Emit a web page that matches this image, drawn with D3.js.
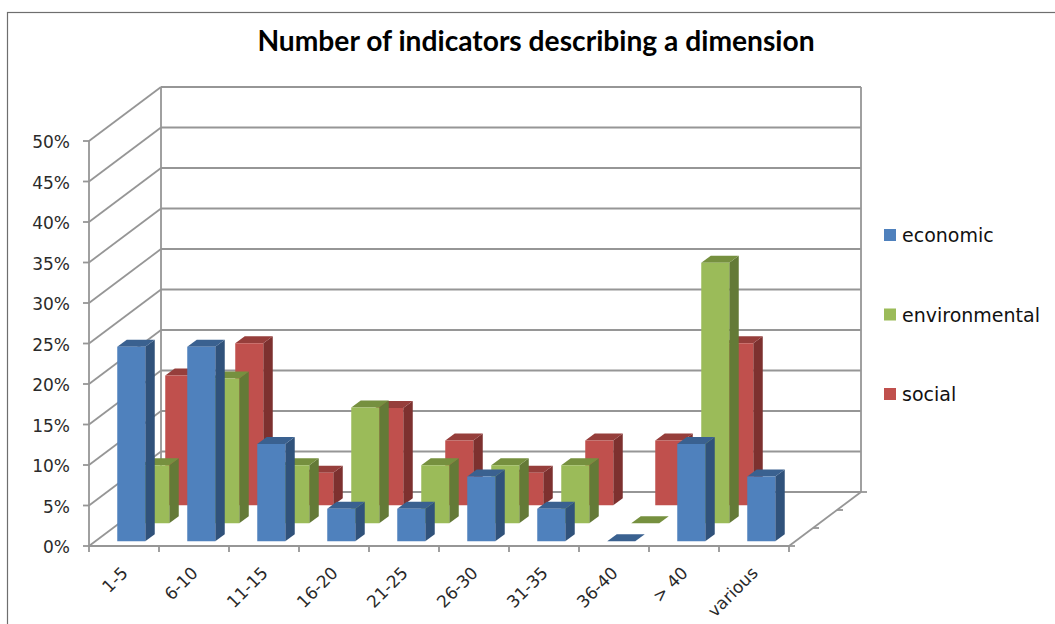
<!DOCTYPE html>
<html><head><meta charset="utf-8">
<script src="https://cdn.jsdelivr.net/npm/d3@7/dist/d3.min.js"></script>
<style>html,body{margin:0;padding:0;background:#fff}svg{display:block}text{font-family:"DejaVu Sans",sans-serif}</style>
</head><body><svg id="c" width="1055" height="624"></svg>
<script>
const categories=["1-5","6-10","11-15","16-20","21-25","26-30","31-35","36-40","> 40","various"];
const economic=[24,24,12,4,4,8,4,0,12,8];
const environmental=[7.14,17.86,7.14,14.29,7.14,7.14,7.14,0,32.14,null];
const social=[16,20,4,12,8,4,8,8,20,null];
const seriesNames=["economic","environmental","social"];
const frontColors=["#4f81bd","#9bbb59","#c0504d"];
const sideColors=["#30527b","#647a37","#7d312f"];
const topColors=["#3a6190","#76903f","#963e3b"];
const yTicks=d3.range(0,51,5);
const seriesValues=[economic,environmental,social];

const svg=d3.select("#c");
const grid="#969696";
const x=d3.scaleBand().domain(categories).range([89,789]);
const y=d3.scaleLinear().domain([0,50]).range([546,141]);
const depth=d3.scaleLinear().domain([0,3]).range([0,1]);
const dx=72,dy=-54;
const barW=28,barDx=9.5,barDy=-7;

svg.append("rect").attr("x",7.5).attr("y",12.5).attr("width",1090).attr("height",700)
  .attr("fill","#fff").attr("stroke","#6e6e6e").attr("stroke-width",1.2);

const g=svg.append("g").attr("stroke",grid).attr("fill","none").attr("stroke-width",1.8);
yTicks.forEach(t=>{
  g.append("line").attr("x1",x.range()[0]).attr("y1",y(t)).attr("x2",x.range()[0]+dx).attr("y2",y(t)+dy);
  g.append("line").attr("x1",x.range()[0]+dx).attr("y1",y(t)+dy).attr("x2",x.range()[1]+dx).attr("y2",y(t)+dy);
  g.append("line").attr("x1",x.range()[0]-6).attr("y1",y(t)).attr("x2",x.range()[0]).attr("y2",y(t));
});
g.append("line").attr("x1",x.range()[0]).attr("y1",y(0)).attr("x2",x.range()[0]).attr("y2",y(50));
g.append("line").attr("x1",x.range()[0]+dx).attr("y1",y(0)+dy).attr("x2",x.range()[0]+dx).attr("y2",y(50)+dy);
g.append("line").attr("x1",x.range()[1]+dx).attr("y1",y(0)+dy).attr("x2",x.range()[1]+dx).attr("y2",y(50)+dy);
g.append("line").attr("x1",x.range()[0]).attr("y1",y(0)).attr("x2",x.range()[1]).attr("y2",y(0));
g.append("line").attr("x1",x.range()[1]).attr("y1",y(0)).attr("x2",x.range()[1]+dx).attr("y2",y(0)+dy);
categories.concat([null]).forEach(c=>{
  const px=c===null?x.range()[1]:x(c);
  g.append("line").attr("x1",px).attr("y1",y(0)).attr("x2",px).attr("y2",y(0)+6);
});
d3.range(0,4).forEach(k=>{
  const f=depth(k);
  const px=x.range()[1]+dx*f,py=y(0)+dy*f;
  g.append("line").attr("x1",px).attr("y1",py).attr("x2",px+6).attr("y2",py);
});

const bars=svg.append("g");
[2,1,0].forEach(s=>{
  const ox=dx*(depth(s)+depth(1)/2)-barDx/2, oy=dy*(depth(s)+depth(1)/2)-barDy/2+0.7;
  seriesValues[s].forEach((v,i)=>{
    if(v===null) return;
    const L=x(categories[i])+(x.bandwidth()-barW)/2+ox;
    const R=L+barW, B=y(0)+oy, T=y(v)+oy;
    const poly=(pts,fill)=>bars.append("polygon").attr("points",pts.map(p=>p.join(",")).join(" ")).attr("fill",fill);
    poly([[R,B],[R+barDx,B+barDy],[R+barDx,T+barDy],[R,T]],sideColors[s]);
    poly([[L,T],[R,T],[R+barDx,T+barDy],[L+barDx,T+barDy]],topColors[s]);
    if(v>0) poly([[L,T],[R,T],[R,B],[L,B]],frontColors[s]);
  });
});

yTicks.forEach(t=>{
  svg.append("text").attr("x",70).attr("y",y(t)+7).attr("text-anchor","end")
    .attr("font-size",17).attr("fill","#2a2a2a").text(t+"%");
});
categories.forEach(c=>{
  const px=x(c)+x.bandwidth()/2;
  svg.append("text").attr("transform",`translate(${px+5},${y(0)+28}) rotate(-45)`)
    .attr("text-anchor","end").attr("font-size",17).attr("fill","#2a2a2a").text(c);
});

svg.append("text").attr("x",536).attr("y",51).attr("text-anchor","middle")
  .attr("font-size",28.2).attr("font-weight",700).attr("fill","#000")
  .style("font-family","Lato, sans-serif").text("Number of indicators describing a dimension");

const legendY=d3.scalePoint().domain(seriesNames).range([235,394]);
seriesNames.forEach((n,i)=>{
  svg.append("rect").attr("x",884).attr("y",legendY(n)-6).attr("width",12).attr("height",12).attr("fill",frontColors[i]);
  svg.append("text").attr("x",902).attr("y",legendY(n)+7).attr("font-size",19).attr("fill","#111").text(n);
});
</script></body></html>
